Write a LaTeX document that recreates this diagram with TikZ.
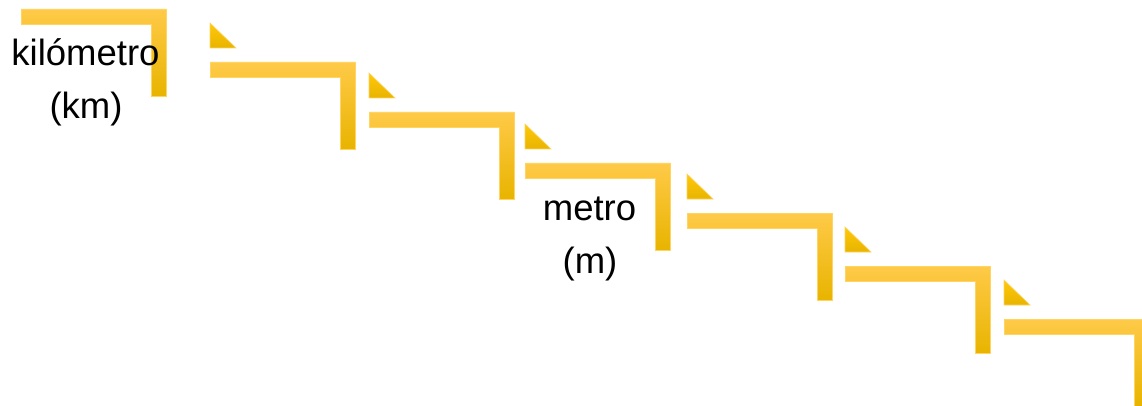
\documentclass[tikz,border=0pt]{standalone}
\usepackage{fontspec}
\setmainfont{Liberation Sans}
\definecolor{goldtop}{RGB}{255,202,72}
\definecolor{goldmid}{RGB}{255,200,10}
\definecolor{goldbot}{RGB}{232,180,0}
\definecolor{goldedge}{RGB}{255,212,96}
\tikzset{
  stepshape/.style={top color=goldtop, middle color=goldmid, bottom color=goldbot, draw=goldedge, line width=0.8pt},
  tripiece/.style={top color=goldmid, bottom color=goldbot, draw=goldedge, line width=0.6pt},
  lbl/.style={font=\fontsize{36.5}{44}\selectfont, text=black, anchor=base, inner sep=0pt}
}
\begin{document}
\begin{tikzpicture}[x=1pt,y=-1pt]
\useasboundingbox (0,0) rectangle (1142,406);
\clip (0,0) rectangle (1142,406);
% L-shaped steps
\foreach \x/\y in {21/9, 210/62, 369/112, 525/163, 687/213, 845/266, 1004/319}{
  \path[stepshape] (\x,\y) -- ++(145,0) -- ++(0,87) -- ++(-15,0) -- ++(0,-72) -- ++(-130,0) -- cycle;
}
% small triangles
\foreach \x/\y in {210/62, 369/112, 525/163, 687/213, 845/266, 1004/319}{
  \path[tripiece] (\x,\y-39) -- (\x,\y-14) -- (\x+26,\y-14) -- cycle;
}
% labels
\node[lbl] (km1) at (85.5,66) {kilómetro};
\node[lbl] (km2) at (86,119) {(km)};
\node[lbl] (m1) at (589.5,220) {metro};
\node[lbl] (m2) at (590,273) {(m)};
\end{tikzpicture}
\end{document}
